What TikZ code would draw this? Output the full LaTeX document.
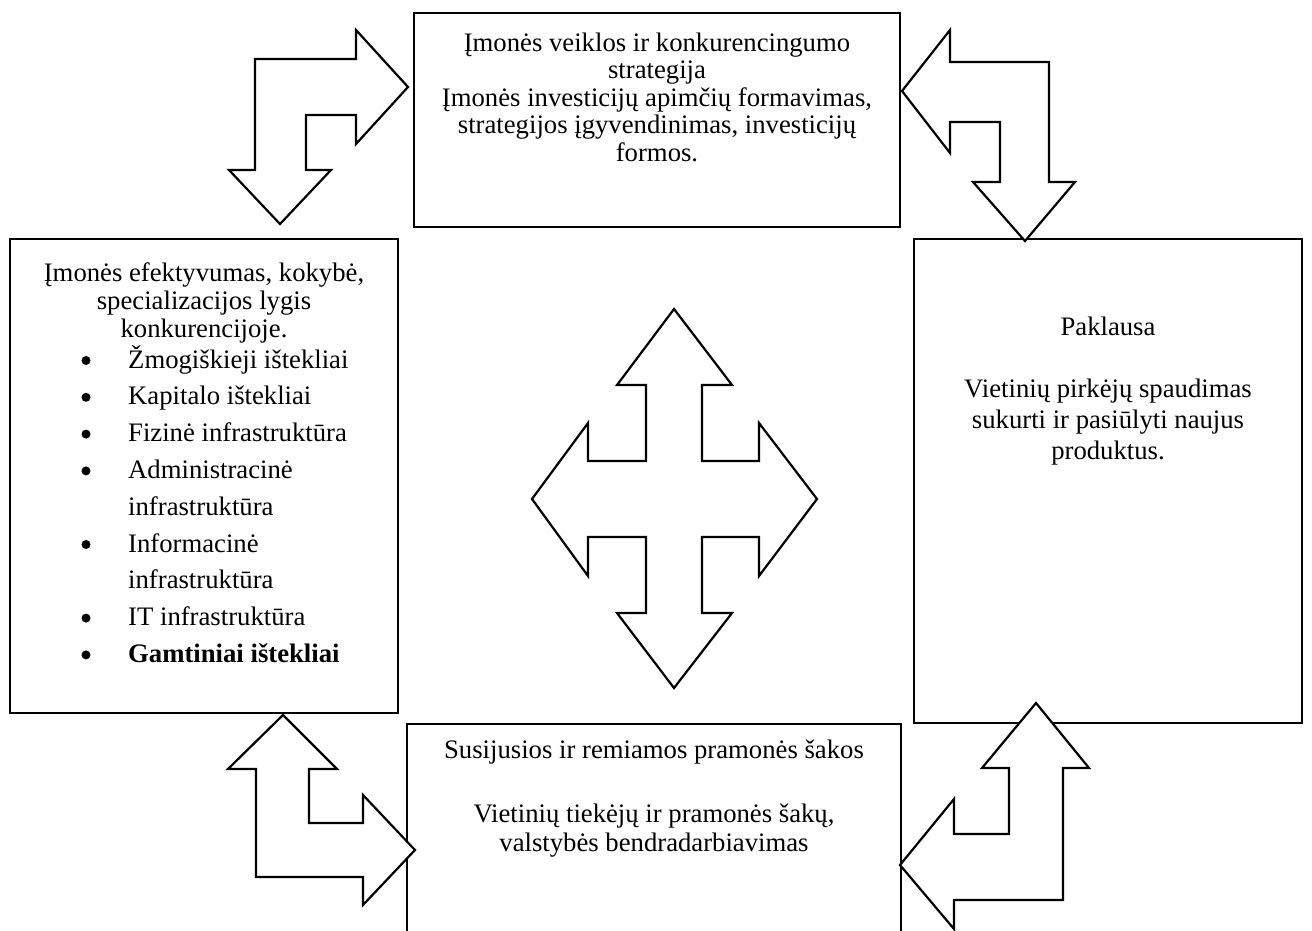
\documentclass[tikz,border=0pt]{standalone}
\usepackage{fontspec}
\setmainfont{Liberation Serif}
\begin{document}
\begin{tikzpicture}[x=1pt,y=-1pt,
  every node/.style={font=\fontsize{26.7}{28.5}\selectfont},
  boxstyle/.style={draw=black,line width=2.4pt,fill=white},
  arrowshape/.style={draw=black,line width=2.2pt,fill=white,line join=miter},
  txt/.style={inner sep=0pt,anchor=base},
  ltxt/.style={inner sep=0pt,anchor=base west},
  bul/.style={circle,fill=black,inner sep=0pt,minimum size=9pt}]
\useasboundingbox[fill=white] (0,0) rectangle (1312,931);
\clip (0,0) rectangle (1312,931);
% boxes
\draw[boxstyle] (414,13) rectangle (900,227);
\node[inner sep=0pt] (topbox) at (657,120) {};
\draw[boxstyle] (10,239) rectangle (398,713);
\node[inner sep=0pt] (leftbox) at (204,476) {};
\draw[boxstyle] (914,239) rectangle (1302,723);
\node[inner sep=0pt] (rightbox) at (1108,481) {};
\draw[boxstyle] (407,724) rectangle (901,950);
\node[inner sep=0pt] (bottombox) at (654,830) {};
% top box text
\node[txt] (t1) at (657,52) {Įmonės veiklos ir konkurencingumo};
\node[txt] (t2) at (657,79) {strategija};
\node[txt] (t3) at (657,107) {Įmonės investicijų apimčių formavimas,};
\node[txt] (t4) at (657,134) {strategijos įgyvendinimas, investicijų};
\node[txt] (t5) at (657,161) {formos.};
% left box text
\node[txt] (l1) at (204,281) {Įmonės efektyvumas, kokybė,};
\node[txt] (l2) at (204,309) {specializacijos lygis};
\node[txt] (l3) at (204,337) {konkurencijoje.};
\foreach \yy/\tt/\nn in {368/Žmogiškieji ištekliai/a,404.8/Kapitalo ištekliai/b,441.6/Fizinė infrastruktūra/c,478.4/Administracinė/d,552/Informacinė/f,625.6/IT infrastruktūra/h}{
  \node[bul] (b\nn) at (86,\yy-7.5) {};
  \node[ltxt] (i\nn) at (128,\yy) {\tt};
}
\node[ltxt] (ie) at (128,515.2) {infrastruktūra};
\node[ltxt] (ig) at (128,588.8) {infrastruktūra};
\node[bul] (bi) at (86,654.9) {};
\node[ltxt] (ii) at (128,662.4) {\bfseries Gamtiniai ištekliai};
% right box text
\node[txt] (r1) at (1108,335) {Paklausa};
\node[txt] (r2) at (1108,397) {Vietinių pirkėjų spaudimas};
\node[txt] (r3) at (1108,428) {sukurti ir pasiūlyti naujus};
\node[txt] (r4) at (1108,459) {produktus.};
% bottom box text
\node[txt] (s1) at (654,758) {Susijusios ir remiamos pramonės šakos};
\node[txt] (s2) at (654,822) {Vietinių tiekėjų ir pramonės šakų,};
\node[txt] (s3) at (654,851) {valstybės bendradarbiavimas};
% bent arrow top-left
\draw[arrowshape] (408,87) -- (356,144) -- (356,115) -- (306,115) -- (306,170) -- (331,170)
  -- (280,224) -- (229,170) -- (255,170) -- (255,59) -- (356,59) -- (356,30) -- cycle;
% bent arrow top-right
\draw[arrowshape] (902,91) -- (950,30) -- (950,62) -- (1049,62) -- (1049,182) -- (1075,182)
  -- (1025,241) -- (973,182) -- (1000,182) -- (1000,122) -- (950,122) -- (950,153) -- cycle;
% bent arrow bottom-left
\draw[arrowshape] (283,715) -- (337,769) -- (309,769) -- (309,823) -- (363,823) -- (363,795)
  -- (415,850) -- (363,905) -- (363,877) -- (256,877) -- (256,769) -- (228,769) -- cycle;
% bent arrow bottom-right
\draw[arrowshape] (1036,703) -- (1089,768) -- (1063,768) -- (1063,900) -- (954,900) -- (954,929)
  -- (900,865) -- (954,799) -- (954,834) -- (1009,834) -- (1009,768) -- (982,768) -- cycle;
% four-way arrow
\draw[arrowshape] (674,309) -- (732,385) -- (702,385) -- (702,461) -- (759,461) -- (759,423)
  -- (817,499) -- (759,576) -- (759,537) -- (702,537) -- (702,613) -- (732,613)
  -- (674,688) -- (617,613) -- (646,613) -- (646,537) -- (588,537) -- (588,576)
  -- (532,499) -- (588,423) -- (588,461) -- (646,461) -- (646,385) -- (617,385) -- cycle;
\end{tikzpicture}
\end{document}
